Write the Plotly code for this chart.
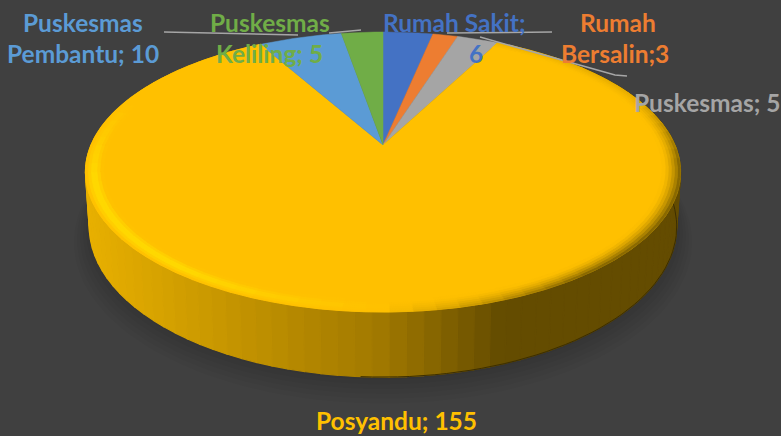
import math
import numpy as np
import plotly.graph_objects as go

# --- data -------------------------------------------------------------
categories = ["Rumah Sakit", "Rumah Bersalin", "Puskesmas", "Posyandu",
              "Puskesmas Pembantu", "Puskesmas Keliling"]
values = [6, 3, 5, 155, 10, 5]
colors = ["#4472C4", "#ED7D31", "#A5A5A5", "#FFC000", "#5B9BD5", "#70AD47"]

# label text, one entry per printed line: (text, colour index, x, y)
label_lines = [
    ("Puskesmas", 4, 83, 22), ("Pembantu; 10", 4, 83, 53),
    ("Puskesmas", 5, 270, 22), ("Keliling; 5", 5, 269, 53),
    ("Rumah Sakit;", 0, 454, 22), ("6", 0, 476, 53),
    ("Rumah", 1, 618, 22), ("Bersalin;3", 1, 615, 53),
    ("Puskesmas; 5", 2, 707, 102), ("Posyandu; 155", 3, 396, 420),
]
leader_paths = [
    [(164, 32), (298, 35)],
    [(329, 33), (361, 30)],
    [(447, 33), (552, 32)],
    [(480, 37), (615, 75), (627, 76)],
]

# --- projection of the disc -------------------------------------------
CX, CY = 383.0, 145.0
R, A, K = 292.0, 134.8, 0.193
DEPTH = 52.5
BG = "#404040"


def project(theta, r=1.0, depth=0.0, grow=1.0):
    X = np.sin(theta) * r * grow
    Y = -np.cos(theta) * r * grow
    d = 1 - K * Y
    sx = CX + R * X / d * (1 - 0.013 * (depth > 0))
    sy = CY + (A * Y + depth) / d
    return sx, sy


def mix(c1, c2, t):
    t = max(0.0, min(1.0, t))
    return "rgb(%d,%d,%d)" % tuple(round(a + (b - a) * t) for a, b in zip(c1, c2))


def poly(x, y, fill, width=1.2):
    return go.Scatter(x=list(x), y=list(y), mode="lines", fill="toself",
                      fillcolor=fill, hoverinfo="skip", showlegend=False,
                      line=dict(color=fill, width=width))


total = sum(values)
edges = np.cumsum([0] + values) / total * 2 * math.pi
traces = []

# soft shadow below the disc
full = np.linspace(0, 2 * math.pi, 181)
for grow, off in [(1.05, 12), (1.04, 10), (1.03, 8), (1.02, 6), (1.01, 4), (1.0, 2)]:
    sx, sy = project(full, grow=grow, depth=DEPTH + off)
    traces.append(go.Scatter(x=sx, y=sy, mode="lines", fill="toself",
                             fillcolor="rgba(0,0,0,0.03)", line=dict(width=0),
                             hoverinfo="skip", showlegend=False))

# side wall of the big slice
i_big = values.index(max(values))
th0, th1 = edges[i_big], edges[i_big + 1]
n_side = 110
ths = np.linspace(th0, th1, n_side + 1)
LEFT, MID, RIGHT = (232, 176, 0), (160, 120, 0), (100, 76, 0)
for a, b in zip(ths[:-1], ths[1:]):
    xa, ya = project(np.array([a, b]))
    xb, yb = project(np.array([b, a]), depth=DEPTH)
    t = ((xa[0] + xa[1]) / 2 - 85) / 595
    if t < 0.5:
        c = mix(LEFT, MID, t / 0.5)
    else:
        c = mix(MID, RIGHT, (t - 0.5) / 0.2)
    traces.append(poly(list(xa) + list(xb) + [xa[0]], list(ya) + list(yb) + [ya[0]], c))

# thin dark outline along the lit-away lower edge
edge_th = np.linspace(th0, math.pi * 1.02, 80)
ex, ey = project(edge_th, depth=DEPTH)
traces.append(go.Scatter(x=ex, y=ey, mode="lines", line=dict(color="#3C2E00", width=1),
                         hoverinfo="skip", showlegend=False))

# top face
for i, v in enumerate(values):
    th = np.linspace(edges[i], edges[i + 1], max(6, int(v * 3)))
    sx, sy = project(th)
    traces.append(poly([CX] + list(sx) + [CX], [CY] + list(sy) + [CY], colors[i], 0.5))

# bevel along the rim of the big slice (only where it faces the viewer)
BASE, HI, LO = (255, 192, 0), (255, 222, 0), (120, 92, 0)
rings = np.linspace(1.0, 0.94, 7)
segs = np.linspace(th0, th1, 81)
for k, (r0, r1) in enumerate(zip(rings[:-1], rings[1:])):
    pos = (k + 0.5) / 6
    for a, b in zip(segs[:-1], segs[1:]):
        m = (a + b) / 2
        nx, ny = math.sin(m), -math.cos(m)
        front = max(0.0, min(1.0, (ny + 0.35) / 0.6))
        if nx < 0:
            v = -nx
            t = min(1.0, v * 1.6) * front * max(0.0, 1 - abs(pos - 0.5) * 2.2)
            c = mix(BASE, HI, t)
        else:
            v = nx
            t = min(1.0, v * 1.7) * min(1.0, front + 0.2) * (1 - pos) ** 1.6
            c = mix(BASE, LO, t)
        xo, yo = project(np.array([a, b]), r=r0)
        xi, yi = project(np.array([b, a]), r=r1)
        traces.append(poly(list(xo) + list(xi) + [xo[0]], list(yo) + list(yi) + [yo[0]], c, 0.8))

# leader lines
for path in leader_paths:
    traces.append(go.Scatter(x=[p[0] for p in path], y=[p[1] for p in path], mode="lines",
                             line=dict(color="#A6A6A6", width=1.5),
                             hoverinfo="skip", showlegend=False))

fig = go.Figure(traces)
for text, ci, x, y in label_lines:
    fig.add_annotation(x=x, y=y, text="<b>%s</b>" % text, showarrow=False,
                       xref="x", yref="y", xanchor="center", yanchor="middle",
                       font=dict(family="Lato", size=24.5, color=colors[ci]))

fig.update_layout(
    width=781, height=436, autosize=False,
    margin=dict(l=0, r=0, t=0, b=0),
    paper_bgcolor=BG, plot_bgcolor=BG, showlegend=False,
    xaxis=dict(range=[0, 781], visible=False, fixedrange=True),
    yaxis=dict(range=[436, 0], visible=False, fixedrange=True),
)
fig.write_html(
    "out.html",
    config={"displayModeBar": False},
    post_script="document.body.style.margin='0';"
                "document.body.style.overflow='hidden';"
                "document.body.style.background='#404040';",
)
